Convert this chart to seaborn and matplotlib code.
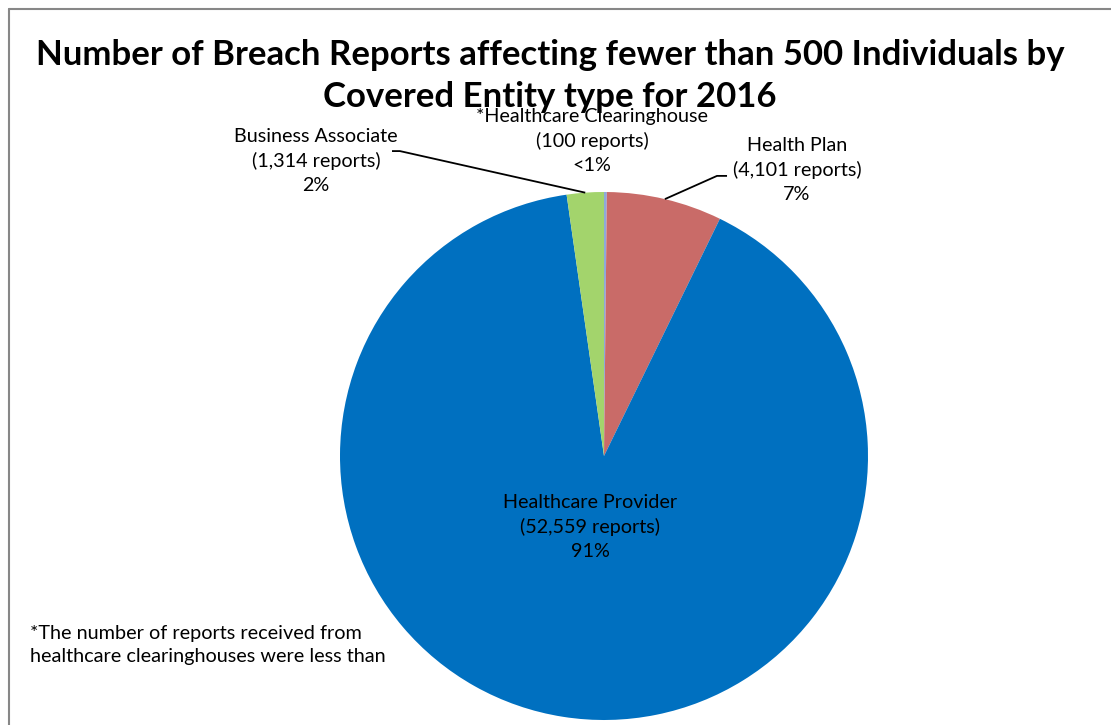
import numpy as np
import matplotlib
matplotlib.use("Agg")
import matplotlib.pyplot as plt
from matplotlib.lines import Line2D
import seaborn as sns

# Breach reports (<500 individuals) by covered entity type, 2016
entities = ["Healthcare Clearinghouse", "Health Plan", "Healthcare Provider", "Business Associate"]
reports = [100, 4101, 52559, 1314]
pct_text = ["<1%", "7%", "91%", "2%"]
colors = ["#8EA9DB", "#C96B68", "#0070C0", "#A3D46C"]

title = "Number of Breach Reports affecting fewer than 500 Individuals by\nCovered Entity type for 2016"
footnote = "*The number of reports received from\nhealthcare clearinghouses were less than"

sns.set_theme(style="white")
plt.rcParams["font.family"] = ["Lato", "DejaVu Sans"]

fig = plt.figure(figsize=(11.11, 7.25), dpi=100)
W, H = 1111, 725

# pie axes: square box of 528 px centred at (604, 456) px
ax = fig.add_axes([340 / W, (H - 720) / H, 528 / W, 528 / H])
wedges, _ = ax.pie(reports, colors=colors, startangle=90, counterclock=False,
                   radius=1.0, wedgeprops=dict(linewidth=0))
ax.set_xlim(-1, 1)
ax.set_ylim(-1, 1)
ax.set_aspect("equal")
ax.axis("off")

label_fs = 14.2
lines = [f"{'*' if i == 0 else ''}{name}\n({n:,} reports)\n{p}"
         for i, (name, n, p) in enumerate(zip(entities, reports, pct_text))]

# label centres (data units, radius = 1)
label_pos = {
    0: (-0.045, 1.193),
    1: (0.731, 1.083),
    2: (-0.053, -0.269),
    3: (-1.091, 1.117),
}
for i, txt in enumerate(lines):
    x, y = label_pos[i]
    ax.text(x, y, txt, ha="center", va="center", fontsize=label_fs,
            color="#000000", linespacing=1.47, clip_on=False, zorder=5)

# leader lines from slice mid-angle edge to label
def mid_point(i):
    w = wedges[i]
    ang = np.deg2rad((w.theta1 + w.theta2) / 2)
    return np.cos(ang), np.sin(ang)

leaders = {
    1: [(0.466, 1.061), (0.428, 1.061)],
    3: [(-0.803, 1.155), (-0.773, 1.155)],
}
for i, pts in leaders.items():
    ex, ey = mid_point(i)
    xs = [p[0] for p in pts] + [ex]
    ys = [p[1] for p in pts] + [ey]
    ax.plot(xs, ys, color="black", lw=1.3, clip_on=False, zorder=4,
            solid_capstyle="butt")

# title and footnote
fig.text(550 / W, 1 - 76 / H, title, ha="center", va="center", fontsize=25,
         fontweight="bold", linespacing=1.36, color="black")
fig.text(30 / W, 1 - 645 / H, footnote, ha="left", va="center", fontsize=14.3,
         linespacing=1.45, color="black")

# chart-area border (top and left edges)
bx, by = 9 / W, 1 - 9 / H
fig.add_artist(Line2D([bx, 1.0], [by, by], transform=fig.transFigure, color="#878787", lw=1.5))
fig.add_artist(Line2D([bx, bx], [0, by], transform=fig.transFigure, color="#878787", lw=1.5))

fig.savefig("out.png", dpi=100, facecolor="white")
